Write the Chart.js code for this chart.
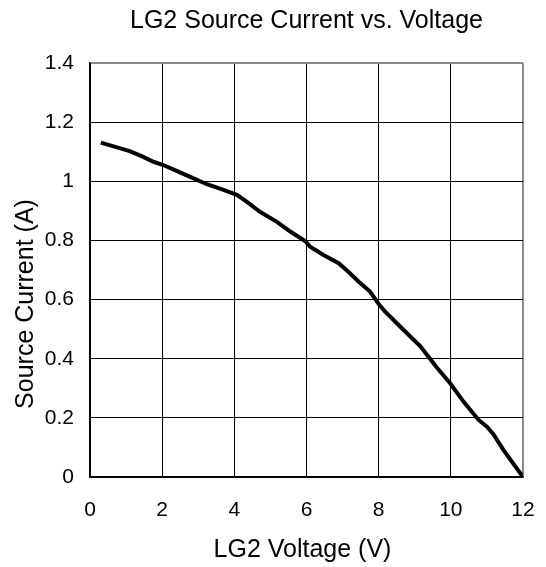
<!DOCTYPE html>
<html>
<head>
<meta charset="utf-8">
<script src="https://cdn.jsdelivr.net/npm/chart.js@4/dist/chart.umd.min.js"></script>
<style>
  html, body { margin: 0; padding: 0; background: #fff; }
  #wrap { width: 546px; height: 567px; position: relative; }
</style>
</head>
<body>
<div id="wrap"><canvas id="c" width="546" height="567"></canvas></div>
<script>
// LG2 source current measured against LG2 voltage
const voltage = [0.3, 1.1, 1.43, 1.76, 2.03, 2.4, 2.87, 3.24, 3.7, 4.07, 4.34, 4.71, 5.18, 5.55, 5.96, 6.1, 6.47, 6.89, 7.16, 7.44, 7.76, 8.0, 8.18, 8.6, 9.15, 9.6, 9.98, 10.35, 10.77, 11.0, 11.18, 11.46, 12.0];
const current = [1.131, 1.102, 1.085, 1.066, 1.055, 1.035, 1.010, 0.990, 0.971, 0.954, 0.931, 0.897, 0.863, 0.830, 0.798, 0.779, 0.751, 0.723, 0.694, 0.661, 0.627, 0.585, 0.559, 0.508, 0.443, 0.372, 0.317, 0.255, 0.193, 0.170, 0.145, 0.091, 0.0];

const xTicks = [0, 2, 4, 6, 8, 10, 12];
const yTicks = [0, 0.2, 0.4, 0.6, 0.8, 1, 1.2, 1.4];

const chartTitle = 'LG2 Source Current vs. Voltage';
const xTitle = 'LG2 Voltage (V)';
const yTitle = 'Source Current (A)';

const FONT = '"Liberation Sans", Arial, Helvetica, sans-serif';

// Titles placed relative to the plot area
const titlesPlugin = {
  id: 'titles',
  afterDraw(chart) {
    const { ctx, chartArea } = chart;
    const cx = (chartArea.left + chartArea.right) / 2;
    ctx.save();
    ctx.fillStyle = '#000';
    ctx.font = '25px ' + FONT;
    ctx.textAlign = 'center';
    ctx.textBaseline = 'alphabetic';
    ctx.fillText(chartTitle, cx, chartArea.top - 35);
    ctx.fillText(xTitle, cx - 4, chartArea.bottom + 80);
    ctx.translate(chartArea.left - 57, (chartArea.top + chartArea.bottom) / 2 + 34);
    ctx.rotate(-Math.PI / 2);
    ctx.fillText(yTitle, 0, 0);
    ctx.restore();
  }
};

new Chart(document.getElementById('c'), {
  type: 'line',
  data: {
    datasets: [{
      data: voltage.map((v, i) => ({ x: v, y: current[i] })),
      borderColor: '#000',
      borderWidth: 4,
      pointRadius: 0,
      tension: 0,
      fill: false
    }]
  },
  options: {
    responsive: false,
    animation: false,
    events: [],
    layout: { padding: { top: 63, right: 23, left: 0, bottom: 0 } },
    plugins: { legend: { display: false }, tooltip: { enabled: false } },
    scales: {
      x: {
        type: 'linear',
        min: 0, max: 12,
        afterBuildTicks(scale) { scale.ticks = xTicks.map(v => ({ value: v })); },
        afterFit(scale) {
          scale.height = 90;
          scale.paddingLeft = 0;
          scale.paddingRight = 0;
        },
        ticks: {
          color: '#000',
          font: { family: FONT, size: 21 },
          padding: 21,
          maxRotation: 0,
          callback: v => String(v)
        },
        grid: {
          drawTicks: false,
          color: ctx => ctx.tick && ctx.tick.value === 12 ? '#8a8a8a' : '#000',
          lineWidth: ctx => ctx.tick && ctx.tick.value === 12 ? 2 : 1
        },
        border: { color: '#000', width: 1.5 }
      },
      y: {
        type: 'linear',
        min: 0, max: 1.4,
        afterBuildTicks(scale) { scale.ticks = yTicks.map(v => ({ value: v })); },
        afterFit(scale) {
          scale.width = 90;
          scale.paddingTop = 0;
          scale.paddingBottom = 0;
        },
        ticks: {
          color: '#000',
          font: { family: FONT, size: 21 },
          padding: 16,
          callback: v => String(Math.round(v * 10) / 10)
        },
        grid: {
          drawTicks: false,
          color: ctx => ctx.tick && ctx.tick.value === 1.4 ? '#8a8a8a' : '#000',
          lineWidth: ctx => ctx.tick && ctx.tick.value === 1.4 ? 2 : 1
        },
        border: { color: '#000', width: 1.5 }
      }
    }
  },
  plugins: [titlesPlugin]
});
</script>
</body>
</html>
